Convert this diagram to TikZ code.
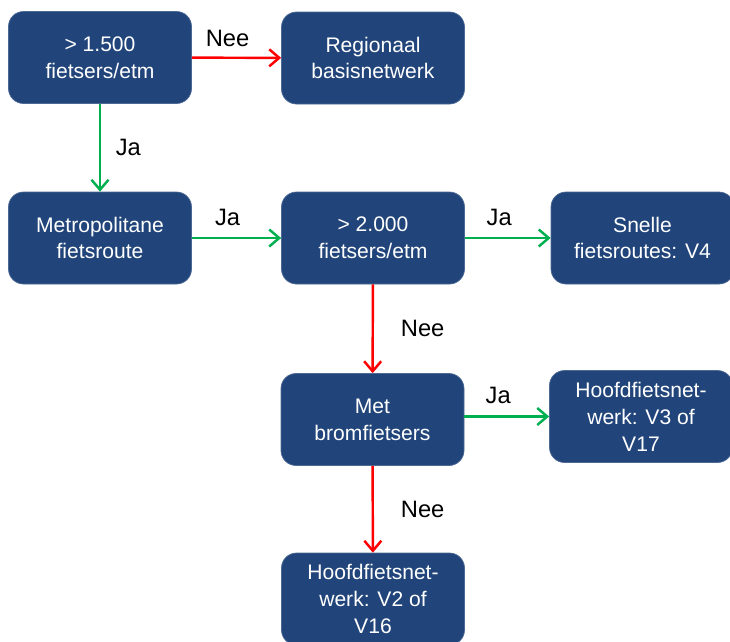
\documentclass[tikz,border=0pt]{standalone}
\usepackage{fontspec}
\setmainfont{Liberation Sans}
\usetikzlibrary{arrows.meta}

\definecolor{boxblue}{HTML}{21457A}
\definecolor{jagreen}{HTML}{00B050}
\definecolor{neered}{HTML}{FF0000}

\tikzset{
  stepbox/.style={fill=boxblue,draw=boxblue!80!white,rounded corners=0.3cm,
    minimum width=3.66cm,minimum height=1.84cm,align=center,text=white,
    font=\fontsize{12}{15.3}\selectfont},
  ja/.style={jagreen,line width=1.4pt,-{Straight Barb[length=2mm,width=3.4mm]}},
  nee/.style={neered,line width=1.4pt,-{Straight Barb[length=2mm,width=3.4mm]}},
  lbl/.style={font=\fontsize{13.5}{15}\selectfont,text=black}
}

\begin{document}
\begin{tikzpicture}
  \useasboundingbox (0,0) rectangle (14.6,-12.84);

  \node[stepbox] (fiets 1500) at (2.0,-1.15) {> 1.500\\fietsers/etm};
  \node[stepbox] (regionaal) at (7.46,-1.16) {Regionaal\\basisnetwerk};
  \node[stepbox] (metro) at (2.0,-4.76) {Metropolitane\\fietsroute};
  \node[stepbox] (fiets 2000) at (7.46,-4.76) {> 2.000\\fietsers/etm};
  \node[stepbox] (snelle) at (12.85,-4.76) {Snelle\\fietsroutes: V4};
  \node[stepbox] (brom) at (7.45,-8.39) {Met\\bromfietsers};
  \node[stepbox] (hoofd 3) at (12.82,-8.33) {Hoofdfietsnet-\\werk: V3 of\\V17};
  \node[stepbox] (hoofd 2) at (7.46,-11.98) {Hoofdfietsnet-\\werk: V2 of\\V16};

  \draw[nee] (fiets 1500) -- (regionaal) node[lbl,pos=0.4,above=2pt] {Nee};
  \draw[ja] (fiets 1500) -- (metro) node[lbl,midway,right=5pt] {Ja};
  \draw[ja] (metro) -- (fiets 2000) node[lbl,pos=0.4,above=3pt] {Ja};
  \draw[ja] (fiets 2000) -- (snelle) node[lbl,pos=0.4,above=3pt] {Ja};
  \draw[nee] (fiets 2000) -- (brom) node[lbl,midway,right=12pt] {Nee};
  \draw[ja] (brom.east |- hoofd 3) -- (hoofd 3) node[lbl,pos=0.4,above=3pt] {Ja};
  \draw[nee] (brom) -- (hoofd 2) node[lbl,midway,right=12pt] {Nee};
\end{tikzpicture}
\end{document}
